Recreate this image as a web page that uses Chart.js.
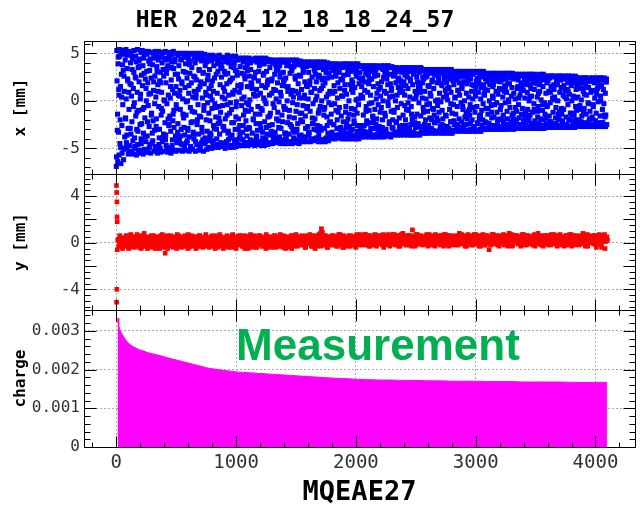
<!DOCTYPE html>
<html>
<head>
<meta charset="utf-8">
<script src="https://cdn.jsdelivr.net/npm/chart.js"></script>
<style>
  body { margin: 0; background: #fff; }
  canvas { display: block; }
</style>
</head>
<body>
<canvas id="turns" width="641" height="506"></canvas>
<script>
const plotTitle = 'HER 2024_12_18_18_24_57';
const monitorName = 'MQEAE27';
const noteText = 'Measurement';

// horizontal position per turn: two interleaved readouts, each every 4 turns
const xTurnStep = 4;
const xStartA = 0;
const xPosA = [
  -6.9, 5.3, -3.1, -6.4, 4.6, 1.2, -5.7, 5.4, -2.0, -4.9, 5.1, 0.4, -5.5, 3.8, 4.9, -6.2,
  2.6, 5.3, -5.0, -1.8, 5.4, -4.4, -3.6, 4.8, 2.1, -5.6, 0.9, 5.2, -4.7, -2.9, 5.0, 1.7,
  -5.4, 3.3, 4.4, -5.6, -0.6, 5.3, -3.9, -4.8, 4.7, 2.4, -5.7, -1.2, 5.4, -3.2, -5.2, 4.2,
  3.6, -5.5, 0.2, 5.1, -4.5, -2.4, 5.3, -0.9, -5.6, 4.5, 2.9, -5.1, -3.8, 5.2, 1.3, -5.4,
  4.9, -2.2, -5.4, 5.2, 0.7, -4.9, 3.9, 4.4, -5.5, -1.5, 5.1, -3.4, -4.2, 5.0, 2.0, -5.3,
  -0.3, 5.2, -5.0, -2.7, 4.8, 3.1, -5.5, 1.0, 5.2, -4.6, -3.0, 4.6, 1.9, -5.4, -0.8, 5.0,
  -4.3, -3.9, 5.1, 2.6, -5.3, 0.0, 5.2, -3.6, -4.7, 4.3, 3.4, -5.4, -1.9, 5.1, -2.5, -5.1,
  4.5, 1.5, -5.5, 3.5, 4.9, -4.1, -2.1, 5.2, -1.0, -5.2, 4.1, 2.8, -5.3, -0.4, 5.0, -4.4,
  -3.3, 4.8, 2.3, -5.2, 0.5, 5.0, -3.7, -4.5, 4.4, 1.8, -5.3, -1.4, 5.0, -2.8, -4.9, 4.6,
  3.0, -5.2, -0.1, 5.0, -4.2, -3.1, 4.7, 0.8, -5.3, 3.8, 4.2, -4.8, -2.3, 5.0, -1.1, -5.1,
  4.9, -3.5, -4.0, 4.5, 2.5, -5.3, 0.3, 5.0, -4.6, -2.0, 4.8, 1.2, -5.2, 3.2, 4.4, -5.0,
  -1.7, 5.0, -4.4, -3.3, 4.6, 2.9, -5.3, -0.5, 4.9, -3.9, -4.3, 4.3, 0.6, -5.1, 2.2, 4.8,
  -4.9, -1.3, 4.7, -3.8, -3.4, 4.5, 1.6, -5.0, 0.1, 4.8, -4.2, -2.6, 4.6, 2.4, -4.9, -0.7,
  4.7, -3.0, -4.6, 4.2, 3.1, -4.9, -1.8, 4.8, -2.2, -4.8, 3.6, 3.9, -4.7, 0.4, 4.6, -4.5,
  -2.7, 4.4, 1.0, -5.0, 2.8, 4.5, -4.3, -1.5, 4.8, -3.4, -4.1, 4.0, 2.0, -4.9, -0.2, 4.7,
  -4.7, -2.3, 4.6, 0.9, -4.9, 3.5, 4.1, -4.4, -3.0, 4.7, -0.6, -4.8, 3.0, 4.3, -4.6, -1.9,
  4.5, -3.9, -3.5, 4.4, 1.4, -4.7, 0.2, 4.5, -4.1, -2.6, 4.2, 2.7, -4.7, -1.0, 4.5, -3.0,
  -4.4, 3.8, 3.2, -4.7, -0.4, 4.5, -2.9, -4.5, 4.0, 1.9, -4.6, 1.3, 4.4, -4.3, -2.0, 4.3,
  2.5, -4.7, -1.4, 4.5, -3.7, -3.8, 4.1, 0.6, -4.6, 3.1, 4.3, -4.5, -2.4, 4.5, -0.8, -4.7,
  4.2, -3.3, -4.2, 3.9, 2.9, -4.7, 0.0, 4.5, -4.0, -2.8, 4.4, 1.7, -4.6, 2.2, 4.1, -4.4,
  -1.6, 4.3, -4.5, -3.2, 4.2, 2.3, -4.5, -0.3, 4.3, -3.6, -3.9, 4.0, 1.1, -4.4, 3.3, 3.9,
  -4.2, -1.2, 4.3, -2.8, -4.4, 3.7, 2.9, -4.5, 0.5, 4.3, -4.1, -2.2, 4.1, 2.0, -4.5, -0.9,
  4.3, -3.4, -3.7, 4.1, 1.5, -4.5, 1.0, 4.2, -4.3, -1.7, 4.3, -2.5, -4.4, 3.6, 3.2, -4.5,
  -0.2, 4.3, -3.9, -3.3, 3.9, 2.6, -4.4, -1.1, 4.3, -3.0, -4.2, 3.8, 0.8, -4.5, 2.7, 4.2,
  -4.3, -2.0, 4.1, -1.3, -4.2, 3.6, 3.0, -4.3, 0.3, 4.1, -3.8, -2.9, 4.0, 1.6, -4.3, -0.6,
  4.1, -3.3, -3.6, 3.9, 2.1, -4.3, 0.9, 4.1, -4.0, -1.8, 4.0, -2.4, -4.2, 3.4, 3.2, -4.1,
  0.1, 4.1, -3.9, -3.1, 3.8, 2.5, -4.3, -1.0, 4.1, -2.7, -4.1, 3.5, 1.3, -4.3, 2.4, 4.0,
  -4.2, -1.5, 4.1, -0.7, -4.3, 3.3, 3.6, -3.9, -2.6, 4.0, 0.7, -4.2, 2.9, 3.7, -3.7, -2.2,
  3.9, -0.4, -4.0, 3.2, 3.4, -3.8, -2.5, 3.9, 1.0, -4.0, 2.6, 3.7, -3.6, -2.0, 3.9, -1.2,
  -3.9, 3.0, 3.5, -3.7, -2.8, 3.8, 0.5, -4.0, 2.2, 3.9, -3.4, -3.1, 3.6, 1.7, -4.0, -0.6,
  3.9, -2.3, -3.9, 3.3, 2.8, -4.0, -1.4, 3.9, -3.2, -3.5, 3.7, 1.2, -4.0, 1.9, 3.8, -3.8,
  -2.1, 3.9, -0.9, -4.0, 2.9, 3.4, -3.6, -2.6, 3.9, 0.2, -4.0, 2.4, 3.7, -3.5, -3.0, 3.6,
  1.5, -3.8, 0.4, 3.7, -3.3, -3.2, 3.5, 2.0, -3.8, -1.1, 3.7, -2.4, -3.7, 3.1, 2.7, -3.8,
  -0.3, 3.7, -3.5, -2.9, 3.4, 2.3, -3.8, -1.6, 3.7, -2.0, -3.8, 3.0, 3.0, -3.6, -2.5, 3.7,
  0.8, -3.8, 1.8, 3.6, -3.4, -3.0, 3.6, 1.4, -3.8, -0.7, 3.7, -2.8, -3.6, 3.3, 2.4, -3.8,
  -1.3, 3.7, -3.1, -3.4, 3.2, 2.8, -3.7, -0.1, 3.7, -3.6, -2.2, 3.5, 1.8, -3.8, 1.1, 3.6,
  -3.5, -2.0, 3.5, -1.0, -3.6, 2.9, 3.0, -3.4, -2.3, 3.5, 0.6, -3.6, 2.3, 3.4, -3.2, -2.7,
  3.4, 1.2, -3.6, 1.6, 3.5, -3.3, -2.8, 3.3, 2.0, -3.6, -0.5, 3.5, -2.6, -3.5, 3.0, 2.5,
  -3.6, -0.2, 3.5, -3.0, -3.3, 3.2, 2.1, -3.6, -1.4, 3.5, -2.1, -3.6, 2.8, 3.1, -3.4, -1.7,
  3.5, 0.3, -3.6, 2.5, 3.3, -3.5, -2.4, 3.4, 1.0, -3.6, 1.4, 3.5, -3.1, -3.0, 3.2, 1.9,
  -3.4, -1.2, 3.3, -2.5, -3.4, 2.9, 2.5, -3.4, -0.4, 3.3, -2.9, -3.1, 3.1, 1.5, -3.4, 0.8,
  3.3, -3.3, -2.0, 3.2, 2.2, -3.4, -0.9, 3.3, -2.3, -3.4, 2.8, 2.9, -3.2, -1.8, 3.3, 0.1,
  -3.4, 2.0, 3.2, -3.1, -2.7, 3.1, 1.8, -3.4, -1.0, 3.3, -2.6, -3.3, 2.7, 2.6, -3.3, -1.5,
  3.3, 0.6, -3.4, 1.3, 3.3, -3.2, -2.9, 3.0, 2.3, -3.4, -0.3, 3.3, -2.2, -3.4, 2.6, 3.0,
  -3.1, -2.1, 3.1, 0.4, -3.2, 2.4, 2.9, -3.0, -2.5, 3.1, 1.1, -3.2, 1.9, 3.1, -2.9, -2.8,
  3.0, 1.6, -3.2, -0.6, 3.1, -2.6, -3.1, 2.7, 2.5, -3.2, -1.3, 3.1, -1.9, -3.2, 2.8, 2.2,
  -3.2, -0.9, 3.1, -2.4, -3.0, 2.9, 1.7, -3.2, 0.2, 3.1, -2.8, -2.7, 3.0, 1.0, -3.2, 1.5,
  3.1, -3.1, -2.3, 3.0, 2.2, -3.2, -1.6, 3.1, -1.5, -3.2, 2.5, 2.7, -3.0, -2.0, 3.1, 0.7,
  -3.0, 1.2, 2.9, -2.9, -2.3, 2.8, 2.0, -3.0, -0.8, 2.9, -2.4, -2.9, 2.6, 2.3, -3.0, -1.2,
  2.9, 0.5, -3.0, 1.7, 2.9, -2.8, -2.6, 2.7, 2.1, -3.0, -0.2, 2.9, -2.0, -3.0, 2.5, 2.7,
  -2.8, -1.9, 2.9, -0.5, -3.0, 2.2, 2.6, -2.9, -2.2, 2.9, 1.0, -3.0, 1.4, 2.9, -2.7, -2.5,
  2.8, 1.8, -3.0, -0.1, 2.9, -2.5, -2.9, 2.6, 2.4, -2.9, -1.5, 2.9, -1.8, -3.0, 2.3, 2.6,
  -2.9, -0.7, 2.8, -2.2, -2.8, 2.7, 1.5, -2.9, 0.3, 2.8, -2.6, -2.5, 2.7, 1.1, -2.9, 1.6,
  2.8, -2.8, -2.1, 2.7, 2.2, -2.9, -1.2, 2.8, -1.6, -2.9, 2.3, 2.5, -2.7, -1.9, 2.8, 0.4,
  -2.9, 1.3, 2.8, -2.7, -2.4, 2.6, 1.9, -2.9, -0.9, 2.8, -2.3, -2.8, 2.5, 2.0, -2.9, -1.1,
  2.7, 0.8, -2.9, 1.7, 2.8, -2.6, -2.7, 2.5, 2.3, -2.9, -0.4, 2.8, -2.0, -2.9, 2.4, 2.6,
  -2.8, -1.8, 2.6, -0.6, -2.8, 2.1, 2.5, -2.7, -2.2, 2.6, 0.9, -2.8, 1.5, 2.6, -2.6, -2.4,
  2.6, 1.7, -2.8, 0.1, 2.6, -2.4, -2.8, 2.4, 2.3, -2.8, -1.4, 2.6, -1.8, -2.8, 2.2, 2.5,
  -2.8, -0.8, 2.6, -2.1, -2.7, 2.5, 1.6, -2.8, 0.4, 2.6, -2.5, -2.5, 2.5, 1.2, -2.8, 1.0,
  2.6, -2.7, -1.9, 2.5, 2.0, -2.8, -1.3, 2.6, -1.5, -2.8, 2.2, 2.4, -2.6, -2.0, 2.6, 0.3,
  -2.7, 1.4, 2.4, -2.6, -2.3, 2.3, 1.8, -2.7, -0.9, 2.4, -2.2, -2.6, 2.2, 1.9, -2.7, -1.2,
  2.4, 0.7, -2.7, 1.5, 2.4, -2.5, -2.5, 2.2, 2.1, -2.7, -0.3, 2.4, -1.9, -2.7, 2.1, 2.3,
  -2.6, -1.7, 2.4, -0.4, -2.7, 2.0, 2.3, -2.6, -2.1, 2.4, 1.0, -2.7, 1.3, 2.4, -2.5, -2.3,
  2.4, 1.6, -2.7, 0.0, 2.4, -2.3, -2.6, 2.2, 2.2, -2.7, -1.5, 2.4, -1.7, -2.7, 2.0, 2.3
];
const xStartB = 2;
const xPosB = [
  -5.9, 2.1, -1.4, 3.9, -3.3, 0.6, 4.7, -4.5, 1.5, -6.6, 2.8, -2.6, 5.0, -0.4, 3.2, -5.1,
  1.0, -3.8, 4.3, -1.9, 0.2, -4.9, 3.4, 2.3, -2.9, 5.1, -0.9, -5.3, 1.8, 4.0, -3.5, 0.5,
  -2.2, 4.6, -4.2, 1.3, 3.0, -0.2, -5.0, 2.5, -1.6, 4.1, -3.0, 0.9, -4.6, 3.5, -1.0, 2.0,
  4.4, -2.5, 0.7, -4.0, 2.7, -5.2, 1.6, 3.7, -3.4, -0.7, 4.9, -1.8, 2.3, -4.3, 0.0, 3.1,
  -3.7, 1.9, -0.5, 4.2, -2.7, 3.2, -4.6, 0.8, 2.4, -1.3, -4.4, 3.8, -2.1, 1.1, 4.5, -3.1,
  2.6, -4.8, 0.4, -1.9, 3.6, -3.0, 1.7, 4.3, -0.6, -3.9, 2.1, -5.0, 3.0, -1.5, 0.9, 4.0,
  -1.1, 3.3, -3.5, 0.1, 4.5, -2.3, -4.1, 1.9, 2.9, -0.3, -4.9, 3.7, 0.6, -2.6, 4.7, -1.6,
  0.3, -3.2, 2.2, 4.1, -4.7, 1.2, -1.4, 3.4, -2.8, 0.8, 4.4, -3.7, 1.5, -0.8, -4.2, 2.8,
  -2.4, 0.6, 3.7, -4.0, 1.1, -0.9, 4.3, -3.0, 2.0, -4.6, 0.2, 3.1, -1.8, 4.6, -3.6, 1.4,
  3.9, -1.5, -4.4, 2.4, 0.0, -2.9, 4.4, 1.6, -3.8, 2.9, -0.7, -4.9, 1.9, 3.5, -2.2, 0.4,
  -3.3, 2.6, 1.0, -1.2, 4.0, -4.3, 0.7, 2.2, -2.5, 4.5, -0.4, -3.5, 3.3, -1.6, 1.5, -4.7,
  2.0, 4.2, -2.8, 0.3, -4.1, 3.0, -1.0, 1.8, -4.5, 3.7, 0.9, -2.0, 4.1, -3.2, -0.2, 2.7,
  -4.2, 1.3, 3.3, -2.1, 0.5, -3.6, 4.2, -0.8, 2.1, -4.6, 1.0, 3.7, -2.9, -0.3, 4.4, -1.7,
  2.8, -4.0, 0.8, 3.9, -2.4, -0.6, 4.3, -3.5, 1.7, -1.2, -4.4, 2.5, 3.4, -0.5, -2.7, 1.4,
  -3.1, 3.1, 0.2, -1.9, 4.1, -4.5, 1.8, -0.4, 2.9, -3.2, 0.6, 4.2, -1.3, -3.9, 2.2, 3.6,
  -0.9, -3.6, 2.4, 0.7, -2.3, 4.0, -4.1, 1.1, 3.2, -1.7, -0.1, -4.3, 2.7, 1.6, -3.0, 4.4,
  0.9, -2.6, 3.6, -4.0, 1.7, -0.5, 2.9, -3.3, 4.1, -1.5, 0.4, -4.4, 2.3, 3.5, -2.1, -0.2,
  -3.7, 1.5, 4.0, -1.1, -2.8, 2.6, 0.1, -4.1, 3.3, -0.9, 1.8, -3.4, 4.2, -1.9, 0.7, 2.4,
  -4.2, 0.5, 3.0, -2.4, 1.2, 4.1, -3.1, -0.6, 2.1, -4.3, 3.7, -1.4, 0.8, -2.9, 4.0, 1.6,
  -1.0, -3.9, 2.7, 0.3, 3.9, -2.2, -4.4, 1.4, -0.3, 3.1, -3.5, 2.0, -1.7, 4.3, -2.6, 0.6,
  3.5, -1.3, -3.6, 2.1, 0.8, -2.5, 4.0, -4.1, 1.2, -0.7, 2.8, -3.3, 3.8, 0.2, -1.9, -4.3,
  1.9, 3.2, -2.1, -0.1, -3.8, 2.5, 0.9, -2.9, 4.1, -1.5, 1.6, -4.2, 3.0, -0.6, 2.2, -3.4,
  -0.8, 2.4, -4.0, 3.7, 0.0, -2.3, 1.5, 3.9, -3.5, -1.0, 2.9, -4.3, 0.7, -2.7, 3.4, 1.1,
  -3.0, 0.4, 3.6, -1.8, -4.1, 2.3, 1.0, -3.2, 3.9, -0.4, -2.4, 1.8, 4.1, -3.7, 0.3, -1.3,
  2.6, -3.6, 1.2, 3.8, -2.2, -0.5, 3.2, -4.0, 0.6, 2.0, -1.6, -3.8, 3.6, -0.8, 1.5, -2.7,
  0.2, 3.0, -3.3, 1.7, -1.1, 3.7, -4.1, 0.9, 2.5, -2.4, -0.3, 3.9, -3.0, 1.3, -1.9, 2.8,
  -4.0, 2.0, 0.5, -2.6, 3.5, -1.3, -3.6, 2.7, 1.1, -0.6, 3.8, -3.1, 0.0, 2.2, -4.1, 1.6,
  3.3, -0.9, -2.9, 1.9, -4.0, 3.0, 0.4, -1.7, 2.4, -3.4, 3.8, -0.2, -2.3, 1.0, 3.5, -3.9,
  -1.4, 2.5, -3.3, 0.8, 3.6, -2.5, 1.6, -0.3, -3.8, 2.9, -1.0, 3.4, -2.9, 0.3, 1.9, -3.6,
  3.2, -0.7, 1.3, -3.1, 2.3, -1.6, -3.9, 3.5, 0.5, -2.2, 2.7, -3.5, 1.1, 3.7, -1.2, -2.8,
  0.7, -3.4, 2.8, -1.9, 3.6, 0.0, -2.7, 1.7, -3.7, 3.1, -0.8, 2.2, -3.0, 0.9, 3.4, -1.5,
  -2.4, 1.4, 3.3, -3.6, 0.1, 2.6, -1.3, -3.2, 3.7, -0.4, 1.8, -2.6, 3.0, -3.8, 0.6, 2.1,
  -3.1, 0.3, 2.4, -1.5, 3.4, -2.6, 1.1, -3.6, 2.9, -0.6, -2.1, 3.5, 0.9, -3.3, 1.8, -1.0,
  2.2, -3.4, 0.6, 3.1, -2.3, -0.2, 3.6, -1.7, 1.5, -3.7, 2.6, -0.9, -2.9, 3.3, 0.2, -1.9,
  -3.5, 2.7, -0.4, 1.2, -2.7, 3.5, -1.2, 0.5, -3.2, 2.0, 3.4, -2.0, 0.0, -3.6, 2.5, 1.0,
  3.0, -1.6, -3.0, 0.8, 2.3, -3.5, 1.7, -0.5, 3.5, -2.4, 0.4, -3.7, 2.8, -1.1, 1.3, -2.8,
  0.5, -2.9, 2.6, -1.2, 3.3, -3.3, 0.0, 1.9, -2.2, 3.1, -0.7, -3.5, 1.4, 2.4, -1.8, 0.9,
  -3.1, 2.1, -0.3, 3.0, -2.6, 1.0, -1.5, 3.4, -3.4, 0.6, 2.7, -2.0, 1.6, -0.9, 3.2, -2.9,
  1.3, -1.0, 3.1, -3.0, 0.4, 2.3, -2.5, -0.6, 3.4, -1.9, 1.7, -3.3, 0.2, 2.9, -2.3, 1.0,
  -2.8, 3.2, 0.7, -1.4, 2.0, -3.5, 1.5, -0.2, 3.0, -2.7, 0.9, -1.6, 3.4, -3.1, 0.3, 2.5,
  -0.7, 2.3, -3.0, 1.0, 3.1, -2.0, 0.2, -3.3, 2.6, -1.1, 1.6, -2.6, 3.2, -0.3, -1.8, 2.9,
  0.5, -2.9, 2.0, -0.8, 3.2, -3.1, 1.3, -1.5, 2.7, -2.3, 0.0, 3.0, -3.3, 1.9, -0.5, -2.1,
  2.4, -1.2, 0.8, -3.2, 2.9, -0.1, -2.5, 1.6, 3.1, -1.9, 0.4, -2.8, 2.2, -3.4, 1.1, 3.2,
  -1.6, 1.9, -2.7, 0.1, 2.5, -3.0, 1.4, -0.9, 3.2, -2.2, 0.9, 2.8, -1.3, -3.2, 2.1, -0.4,
  1.7, -2.5, 0.3, 2.9, -1.4, -3.1, 2.2, -0.6, 1.1, -2.8, 3.0, -1.9, 0.6, 2.5, -3.0, -0.2,
  -2.2, 1.3, 2.7, -0.9, -2.9, 2.0, 0.0, -1.7, 3.0, -2.5, 0.8, 1.8, -3.1, 2.6, -1.1, 0.4,
  2.9, -1.5, -0.4, 2.3, -3.0, 1.0, -2.0, 2.8, -0.7, -2.7, 1.6, 3.0, -1.2, 0.5, -3.1, 2.1,
  -0.6, 2.4, -2.4, 0.9, 1.9, -1.9, 2.9, -3.0, 0.2, 1.4, -1.0, -2.6, 2.7, -0.3, 1.7, -2.9,
  0.6, -2.2, 2.3, -0.8, 2.8, -2.9, 1.1, -1.4, 2.6, -2.5, 0.0, 1.7, -2.8, 2.2, -0.5, -1.8,
  -2.6, 1.5, 0.3, 2.7, -1.7, -0.4, 2.1, -2.9, 1.0, 2.6, -1.2, -2.3, 0.7, 2.8, -2.7, 1.3,
  2.0, -0.9, -2.8, 1.2, 2.5, -2.0, 0.4, -1.5, 2.8, -2.6, 1.6, -0.2, -2.9, 2.3, 0.9, -1.1,
  -1.9, 2.6, 0.1, -2.5, 1.8, -0.7, 2.8, -2.2, 0.5, 1.4, -2.9, 2.4, -1.3, 0.8, -2.4, 2.7,
  0.2, -2.0, 2.5, -1.1, 1.3, -2.8, 2.2, -0.4, -1.8, 2.7, 0.6, -2.5, 1.9, -1.4, 2.6, -0.8,
  -2.7, 1.1, 2.7, -1.6, 0.3, -2.3, 1.7, 2.5, -2.9, 0.9, -0.9, 2.1, -2.1, 0.0, 2.6, -1.5,
  1.6, -2.6, 0.5, 2.3, -1.2, -2.8, 2.6, -0.3, 1.2, -2.1, 2.5, -0.9, -2.7, 1.8, 0.4, -1.7,
  -0.6, 2.4, -2.4, 1.0, 2.1, -1.9, 0.1, -2.9, 2.7, -1.0, 1.5, -2.6, 2.2, -0.2, -1.4, 2.6,
  0.8, -2.4, 1.9, -0.5, 2.5, -2.7, 1.0, -1.6, 2.4, -0.2, -2.2, 1.5, 2.6, -2.8, 0.3, -1.2,
  -2.5, 1.2, 0.4, 2.5, -1.8, -0.7, 2.1, -2.7, 1.7, 0.0, -2.0, 2.6, -1.1, 0.9, -2.6, 2.2,
  1.4, -1.4, 2.6, -2.3, 0.6, -0.9, 2.3, -2.8, 1.1, 2.5, -1.7, 0.2, -2.5, 1.9, -0.4, 2.6,
  -2.0, 0.7, 2.2, -1.3, -2.7, 1.6, 0.0, 2.5, -2.2, 0.5, 1.9, -1.5, -2.8, 2.4, -0.6, 1.2,
  -1.0, 2.3, -2.4, 0.4, 1.8, -2.0, 2.4, -0.5, -2.6, 1.3, 0.1, -1.6, 2.2, -2.7, 1.0, 2.4,
  -0.8, -2.3, 1.7, 2.4, -1.4, 0.6, -2.6, 2.0, -0.2, 1.4, -2.1, 2.3, -1.1, -2.7, 0.9, 2.1,
  -1.9, 1.1, 2.4, -0.6, -2.5, 1.9, 0.3, -2.2, 2.3, -1.3, 0.7, -2.7, 2.1, -0.1, 1.5, -2.4,
  2.2, -1.6, 0.5, -2.6, 1.6, 2.4, -0.9, -2.3, 1.2, -0.3, 2.3, -2.7, 0.8, -1.5, 2.0, -2.5
];

// vertical position: stray readings on the first turns, then two readouts every 8 turns
const yFirstTurns = [1, 2, 3, 4, 5, 6, 7];
const yFirstPos = [4.9, -5.1, 4.3, -4.0, 3.5, 2.2, 1.8];
const yTurnStep = 8;
const yStartA = 8;
const yPosA = [
  -0.6, 0.3, -0.2, 0.5, 0.0, -0.4, 0.4, 0.1, -0.3, 0.6, -0.1, 0.2, -0.5, 0.4, 0.7, -0.2,
  0.1, -0.4, 0.5, 0.2, -0.3, 0.3, 0.0, 0.6, -0.2, -0.5, 0.4, 0.1, 0.8, -0.3, 0.2, -0.1,
  0.5, -0.2, 0.0, 0.4, -0.4, 0.3, 0.6, -0.1, 0.2, -0.3, 0.1, 0.5, -0.5, 0.3, 0.0, 0.7,
  -0.2, 0.4, -0.9, -0.4, 0.6, 0.2, -0.1, 0.3, -0.3, 0.5, 0.0, -0.2, 0.4, 0.1, -0.5, 0.3,
  0.6, -0.1, 0.2, -0.4, 0.4, 0.0, -0.3, 0.5, 0.1, -0.2, 0.7, -0.4, 0.3, 0.0, 0.5, -0.3,
  0.2, 0.5, -0.5, 0.1, 0.3, -0.2, 0.6, -0.1, 0.4, -0.4, 0.2, 0.0, 0.5, -0.3, 0.1, 0.4,
  -0.4, 0.3, 0.1, 0.6, -0.2, 0.4, -0.5, 0.2, 0.0, 0.5, -0.3, 0.7, 0.1, -0.1, 0.3, -0.4,
  0.4, -0.2, 0.5, 0.0, -0.4, 0.3, 0.2, -0.1, 0.6, -0.3, 0.1, 0.4, -0.5, 0.2, 0.5, 0.0,
  -0.1, 0.6, 0.2, -0.3, 0.4, -0.5, 0.1, 0.5, -0.2, 0.3, 0.0, 0.7, -0.4, 0.2, -0.1, 0.4,
  0.3, -0.4, 0.0, 0.5, -0.2, 0.6, 0.1, -0.3, 0.4, -0.1, 0.2, -0.5, 0.5, 0.0, 0.3, -0.2,
  0.5, 0.1, -0.4, 0.3, 0.6, -0.2, 0.0, 0.4, -0.3, 0.2, 0.7, -0.1, 0.3, -0.4, 0.1, 0.5,
  -0.3, 0.2, 0.5, -0.1, 0.3, 0.0, -0.5, 0.6, 0.2, -0.2, 0.4, 0.1, -0.3, 0.5, 0.0, 0.3,
  0.1, 0.6, -0.2, 0.4, -0.4, 0.3, 0.5, 0.0, -0.1, 0.7, 0.2, -0.3, 0.4, 0.1, -0.4, 0.6,
  0.0, -0.3, 0.5, 0.2, 0.8, 1.2, 0.9, 0.1, -0.2, 0.6, 0.3, -0.4, 0.2, 0.5, -0.1, 0.4,
  0.6, -0.2, 0.3, 0.0, 0.5, -0.3, 0.2, 0.7, -0.1, 0.4, 0.1, -0.4, 0.6, 0.2, -0.2, 0.5,
  0.3, 0.0, 0.6, -0.3, 0.4, 0.1, -0.2, 0.5, 0.2, -0.4, 0.7, 0.0, 0.3, -0.1, 0.6, 0.2,
  -0.2, 0.5, 0.2, 0.7, -0.1, 0.4, 0.0, 0.6, -0.3, 0.3, 0.5, 0.1, -0.2, 0.7, 0.2, 0.4,
  0.6, -0.1, 0.3, 0.0, 0.5, 0.2, -0.4, 0.6, 0.1, 0.4, -0.2, 0.7, 0.3, 0.0, 0.5, -0.1,
  0.2, 0.7, -0.2, 0.4, 0.1, 0.6, 0.0, -0.3, 0.5, 0.3, 0.8, -0.1, 0.4, 0.2, -0.2, 0.6,
  0.4, 0.0, 0.6, -0.3, 1.1, 0.3, 0.1, 0.5, -0.2, 0.7, 0.2, 0.4, -0.1, 0.6, 0.0, 0.3,
  -0.1, 0.5, 0.3, 0.7, -0.3, 0.2, 0.6, 0.0, 0.4, -0.2, 0.5, 0.1, 0.7, -0.1, 0.3, 0.5,
  0.2, -0.2, 0.6, 0.1, 0.4, 0.7, -0.1, 0.3, 0.5, 0.0, -0.3, 0.6, 0.2, 0.4, -0.2, 0.5,
  0.6, 0.1, -0.2, 0.5, 0.3, 0.8, 0.0, 0.4, -0.1, 0.6, 0.2, -0.3, 0.5, 0.1, 0.7, 0.3,
  0.0, 0.4, 0.6, -0.2, 0.3, 0.1, 0.7, -0.1, 0.5, 0.2, 0.4, -0.3, 0.6, 0.0, 0.3, 0.5,
  -0.2, 0.6, 0.2, 0.4, -0.6, 0.5, 0.1, 0.7, -0.1, 0.3, 0.5, 0.0, 0.4, -0.2, 0.6, 0.2,
  0.5, 0.0, 0.3, 0.7, -0.2, 0.4, 0.1, 0.6, -0.1, 0.8, 0.2, 0.5, -0.3, 0.3, 0.6, 0.1,
  0.3, 0.6, -0.1, 0.4, 0.2, -0.3, 0.5, 0.0, 0.7, 0.1, 0.4, -0.2, 0.6, 0.3, 0.0, 0.5,
  -0.1, 0.4, 0.6, 0.1, -0.3, 0.5, 0.3, 0.8, 0.0, 0.4, -0.2, 0.6, 0.2, 0.5, -0.1, 0.3,
  0.6, 0.2, -0.2, 0.5, 0.0, 0.7, 0.3, -0.1, 0.4, 0.6, 0.1, -0.3, 0.5, 0.2, 0.7, 0.0,
  0.3, -0.1, 0.5, 0.2, 0.6, -0.2, 0.4, 0.0, 0.7, 0.3, -0.3, 0.5, 0.1, 0.6, -0.1, 0.4,
  0.1, 0.5, -0.2, 0.6, 0.3, 0.0, 0.8, 0.2, -0.1, 0.4, 0.6, -0.3, 0.3, 0.5, 0.0, 0.6,
  0.4, -0.1, 0.6, 0.2, -0.4, 0.5, 0.3, 0.7, 0.0, -0.2, 0.6, 0.1, 0.4, -0.5, 0.3, 0.5
];
const yStartB = 12;
const yPosB = [
  0.2, -0.3, 0.6, -0.1, 0.4, -0.5, 0.1, 0.3, -0.2, 0.5, 0.0, -0.4, 0.6, 0.2, -0.1, 0.4,
  -0.3, 0.5, 0.1, -0.2, 0.7, 0.0, -0.4, 0.3, 0.5, -0.1, 0.2, 0.6, -0.3, 0.1, 0.4, -0.5,
  0.3, 0.0, -0.3, 0.6, 0.2, -0.1, 0.4, -0.5, 0.1, 0.5, -0.2, 0.3, 0.0, 0.6, -0.4, 0.2,
  0.5, -0.3, 0.2, 0.0, -0.5, 0.4, 0.1, 0.6, -0.2, 0.3, -0.4, 0.5, 0.2, -0.1, 0.7, 0.0,
  -0.2, 0.4, 0.0, 0.5, -0.3, 0.2, 0.6, -0.1, 0.3, -0.5, 0.4, 0.1, -0.2, 0.6, 0.0, 0.3,
  0.4, -0.1, 0.5, -0.4, 0.2, 0.6, -0.2, 0.0, 0.4, 0.1, -0.3, 0.5, 0.7, -0.2, 0.3, 0.0,
  0.1, 0.5, -0.3, 0.3, 0.0, -0.2, 0.6, 0.2, -0.4, 0.4, 0.1, -0.1, 0.5, 0.3, -0.5, 0.2,
  -0.1, 0.3, 0.6, -0.2, 0.5, 0.0, 0.2, -0.4, 0.7, 0.1, -0.3, 0.4, 0.0, 0.5, -0.2, 0.6,
  0.4, 0.0, -0.3, 0.5, 0.1, 0.6, -0.2, 0.3, -0.5, 0.2, 0.5, -0.1, 0.4, 0.0, 0.6, -0.3,
  0.1, -0.4, 0.3, 0.6, -0.1, 0.2, 0.5, -0.3, 0.0, 0.4, -0.2, 0.7, 0.2, -0.4, 0.3, 0.1,
  -0.2, 0.5, 0.2, -0.1, 0.6, -0.4, 0.3, 0.1, 0.5, -0.3, 0.0, 0.4, -0.1, 0.6, 0.2, -0.5,
  0.3, 0.1, -0.4, 0.4, 0.0, 0.6, -0.2, 0.5, 0.2, -0.3, 0.7, 0.0, 0.3, -0.2, 0.5, 0.1,
  0.5, -0.2, 0.3, 0.0, -0.4, 0.6, 0.1, -0.1, 0.4, 0.2, -0.3, 0.6, 0.0, 0.3, -0.5, 0.4,
  -0.1, 0.4, 0.7, 0.1, -0.3, 0.3, 0.5, -0.2, 0.6, 0.0, 0.3, -0.4, 0.5, 0.1, 0.4, -0.2,
  0.2, 0.6, -0.1, 0.4, 0.0, -0.3, 0.5, 0.2, 0.7, -0.2, 0.4, 0.1, -0.4, 0.5, 0.3, 0.0,
  0.4, -0.3, 0.2, 0.6, -0.1, 0.5, 0.0, 0.3, -0.3, 0.6, 0.1, 0.4, -0.2, 0.7, 0.2, -0.1,
  0.5, 0.1, 0.7, -0.2, 0.4, 0.2, -0.3, 0.6, 0.0, 0.5, 0.3, -0.1, 0.6, 0.1, -0.3, 0.4,
  0.0, 0.6, 0.2, 0.4, -0.2, 0.7, 0.1, -0.1, 0.5, 0.3, 0.0, 0.6, -0.3, 0.4, 0.2, 0.7,
  -0.1, 0.3, 0.5, 0.0, 0.6, -0.3, 0.4, 0.2, 0.7, -0.1, 0.3, 0.5, 0.1, -0.2, 0.6, 0.2,
  0.4, 0.6, -0.2, 0.3, 0.1, 0.5, -0.3, 0.7, 0.2, 0.0, 0.6, -0.1, 0.4, 0.3, -0.2, 0.5,
  0.2, -0.1, 0.6, 0.4, 0.0, 0.7, 0.3, -0.2, 0.5, 0.1, 0.6, -0.3, 0.3, 0.5, 0.0, 0.4,
  0.6, 0.3, -0.1, 0.5, -0.3, 0.2, 0.7, 0.1, 0.4, -0.2, 0.6, 0.3, 0.0, 0.5, 0.2, -0.1,
  0.1, 0.5, 0.3, -0.2, 0.6, 0.0, 0.4, 0.7, -0.1, 0.3, 0.5, 0.1, -0.3, 0.6, 0.2, 0.4,
  0.5, -0.2, 0.4, 0.1, 0.7, 0.3, -0.1, 0.5, 0.2, -0.3, 0.6, 0.0, 0.4, 0.7, 0.1, -0.2,
  0.3, 0.6, 0.0, 0.4, 0.2, -0.2, 0.5, 0.3, 0.7, 0.0, -0.1, 0.6, 0.2, 0.4, -0.3, 0.5,
  0.0, 0.4, 0.6, -0.1, 0.3, 0.5, 0.1, -0.3, 0.6, 0.2, 0.4, 0.7, -0.2, 0.3, 0.1, 0.5,
  0.6, 0.2, -0.1, 0.5, 0.3, 0.0, 0.7, 0.4, -0.2, 0.5, 0.1, 0.3, 0.6, -0.1, 0.4, 0.2,
  0.3, -0.2, 0.5, 0.7, 0.1, 0.4, -0.1, 0.6, 0.2, 0.0, 0.5, 0.3, -0.3, 0.6, 0.4, 0.1,
  0.4, 0.6, 0.0, 0.3, -0.2, 0.5, 0.2, 0.7, 0.1, -0.1, 0.4, 0.6, 0.0, 0.3, 0.5, -0.2,
  0.2, 0.5, -0.3, 0.4, 0.6, 0.1, 0.3, -0.1, 0.5, 0.7, 0.0, 0.4, 0.2, -0.2, 0.6, 0.3,
  0.5, 0.0, 0.4, 0.2, -0.1, 0.6, 0.3, 0.5, -0.3, 0.4, 0.7, 0.1, 0.3, 0.0, 0.5, 0.2,
  0.1, 0.4, 0.6, -0.2, 0.5, 0.3, 0.0, 0.6, 0.2, -0.4, 0.5, 0.3, 0.7, 0.1, 0.4, 0.2
];

// bunch charge over the turns
const chargeTurns = [
  10, 14, 18, 22, 26, 32, 40, 50, 60, 75, 90, 110, 130, 150, 175, 200, 230, 260, 300,
  340, 380, 420, 460, 500, 550, 600, 650, 700, 750, 800, 850, 900, 950, 1000, 1100,
  1200, 1300, 1400, 1500, 1600, 1700, 1800, 1900, 2000, 2100, 2200, 2300, 2400, 2500,
  2600, 2700, 2800, 2900, 3000, 3100, 3200, 3300, 3400, 3500, 3600, 3700, 3800, 3900,
  4000, 4096
];
const chargeValues = [
  0.00322, 0.00333, 0.00326, 0.00315, 0.00306, 0.00300, 0.00296, 0.00291, 0.00286,
  0.00278, 0.00272, 0.00266, 0.00261, 0.00258, 0.00254, 0.00250, 0.00248, 0.00244,
  0.00241, 0.00238, 0.00235, 0.00231, 0.00228, 0.00225, 0.00221, 0.00217, 0.00213,
  0.00209, 0.00205, 0.00202, 0.00200, 0.00198, 0.00196, 0.00194, 0.00192, 0.00190,
  0.00188, 0.00186, 0.00184, 0.00182, 0.00180, 0.00178, 0.00177, 0.00175, 0.00174,
  0.00173, 0.00173, 0.00172, 0.00172, 0.00171, 0.00171, 0.00170, 0.00170, 0.00170,
  0.00169, 0.00169, 0.00169, 0.00168, 0.00168, 0.00168, 0.00168, 0.00167, 0.00167,
  0.00167, 0.00167
];

// labelled ticks
const turnTicks = [0, 1000, 2000, 3000, 4000];
const xPosTicks = [-5, 0, 5];
const yPosTicks = [-4, -2, 0, 2, 4];
const chargeTicks = [0, 0.001, 0.002, 0.003];

// where the note sits, in turn / charge units
const noteTurn = 1000;
const noteCharge = 0.00225;

const toPoints = (values, start, step) => values.map((v, i) => ({ x: start + i * step, y: v }));

const minorRange = (lo, hi, step, majors) => {
  const out = [];
  for (let k = Math.ceil(lo / step - 1e-9); k * step <= hi + 1e-12; k++) {
    const v = k * step;
    if (!majors.some((m) => Math.abs(m - v) < step / 10)) out.push(v);
  }
  return out;
};

const panels = [
  { id: 'yX', majors: xPosTicks, minorStep: 1 },
  { id: 'yY', majors: yPosTicks, minorStep: 0.5 },
  { id: 'yC', majors: chargeTicks, minorStep: 0.0002 },
];

Chart.defaults.font.family = '"DejaVu Sans Mono", monospace';
Chart.defaults.color = '#333';

const gridStyle = { color: '#aaa', lineWidth: 1, drawTicks: false };
const borderStyle = { display: false, dash: [2, 2] };

const yAxis = (text, min, max, weight, ticks) => ({
  type: 'linear',
  position: 'left',
  stack: 'panels',
  stackWeight: weight,
  min, max,
  afterBuildTicks: (s) => { s.ticks = ticks.map((v) => ({ value: v })); },
  afterFit: (s) => { s.width = 84; },
  ticks: { padding: 4, font: { size: 16 }, callback: (v) => String(v) },
  grid: gridStyle,
  border: borderStyle,
  title: {
    display: true, text, color: '#000',
    font: { size: 16, weight: 'bold' },
    padding: { top: 11, bottom: 0 },
  },
});

// boxed panels with inward tick marks on all four sides
const framePlugin = {
  id: 'framePlugin',
  afterDraw(chart) {
    const { ctx, chartArea: a, scales } = chart;
    const xs = scales.x;
    const l = Math.round(a.left) + 0.5;
    const r = Math.round(a.right) + 0.5;
    const xMinor = minorRange(xs.min, xs.max, 200, turnTicks);
    ctx.save();
    ctx.strokeStyle = '#000';
    ctx.lineWidth = 1;
    panels.forEach((p) => {
      const s = scales[p.id];
      const top = Math.round(s.top) + 0.5;
      const bot = Math.round(s.bottom) + 0.5;
      ctx.strokeRect(l, top, r - l, bot - top);
      ctx.beginPath();
      const xMarks = turnTicks.map((v) => [v, 11]).concat(xMinor.map((v) => [v, 5]));
      xMarks.forEach(([v, len]) => {
        const px = Math.round(xs.getPixelForValue(v)) + 0.5;
        ctx.moveTo(px, top); ctx.lineTo(px, top + len);
        ctx.moveTo(px, bot); ctx.lineTo(px, bot - len);
      });
      const yMinor = minorRange(s.min, s.max, p.minorStep, p.majors);
      const yMarks = p.majors.map((v) => [v, 12]).concat(yMinor.map((v) => [v, 6]));
      yMarks.forEach(([v, len]) => {
        const py = Math.round(s.getPixelForValue(v)) + 0.5;
        if (py <= top || py >= bot) return;
        ctx.moveTo(l, py); ctx.lineTo(l + len, py);
        ctx.moveTo(r, py); ctx.lineTo(r - len, py);
      });
      ctx.stroke();
    });

    ctx.fillStyle = '#000';
    ctx.font = 'bold 23px "DejaVu Sans Mono"';
    ctx.textAlign = 'center';
    ctx.textBaseline = 'alphabetic';
    ctx.fillText(plotTitle, 295, 27);

    ctx.fillStyle = '#00b050';
    ctx.font = 'bold 44px "Liberation Sans"';
    ctx.textAlign = 'left';
    ctx.fillText(noteText, xs.getPixelForValue(noteTurn), scales.yC.getPixelForValue(noteCharge));
    ctx.restore();
  },
};

const squares = (color, radius) => ({
  pointStyle: 'rect',
  pointRadius: radius,
  pointBorderWidth: 0,
  backgroundColor: color,
});

new Chart(document.getElementById('turns'), {
  type: 'scatter',
  data: {
    datasets: [
      {
        label: 'x',
        yAxisID: 'yX',
        data: toPoints(xPosA, xStartA, xTurnStep).concat(toPoints(xPosB, xStartB, xTurnStep)),
        ...squares('#0000ff', 3.6),
      },
      {
        label: 'y',
        yAxisID: 'yY',
        data: yFirstTurns.map((t, i) => ({ x: t, y: yFirstPos[i] }))
          .concat(toPoints(yPosA, yStartA, yTurnStep))
          .concat(toPoints(yPosB, yStartB, yTurnStep)),
        ...squares('#ff0000', 3.3),
      },
      {
        type: 'line',
        label: 'charge',
        yAxisID: 'yC',
        data: chargeTurns.map((t, i) => ({ x: t, y: chargeValues[i] })),
        showLine: true,
        pointRadius: 0,
        borderWidth: 1,
        borderColor: '#ff00ff',
        backgroundColor: '#ff00ff',
        fill: 'origin',
        tension: 0,
      },
    ],
  },
  options: {
    responsive: false,
    animation: false,
    devicePixelRatio: 1,
    layout: { padding: { top: 41, right: 6, left: 0, bottom: 0 } },
    plugins: { legend: { display: false }, tooltip: { enabled: false } },
    scales: {
      x: {
        type: 'linear',
        position: 'bottom',
        min: -270,
        max: 4330,
        afterBuildTicks: (s) => { s.ticks = turnTicks.map((v) => ({ value: v })); },
        afterFit: (s) => { s.height = 59; },
        ticks: { autoSkip: false, maxRotation: 0, padding: 5, font: { size: 19 }, callback: (v) => String(v) },
        grid: gridStyle,
        border: borderStyle,
        title: {
          display: true, text: monitorName, color: '#000',
          font: { size: 27, weight: 'bold', lineHeight: 1 },
          padding: { top: 0, bottom: 0 },
        },
      },
      yC: yAxis('charge', 0, 0.00354, 137, chargeTicks),
      yY: yAxis('y [mm]', -5.77, 5.89, 136, yPosTicks),
      yX: yAxis('x [mm]', -7.7, 6.3, 133, xPosTicks),
    },
  },
  plugins: [framePlugin],
});
</script>
</body>
</html>
